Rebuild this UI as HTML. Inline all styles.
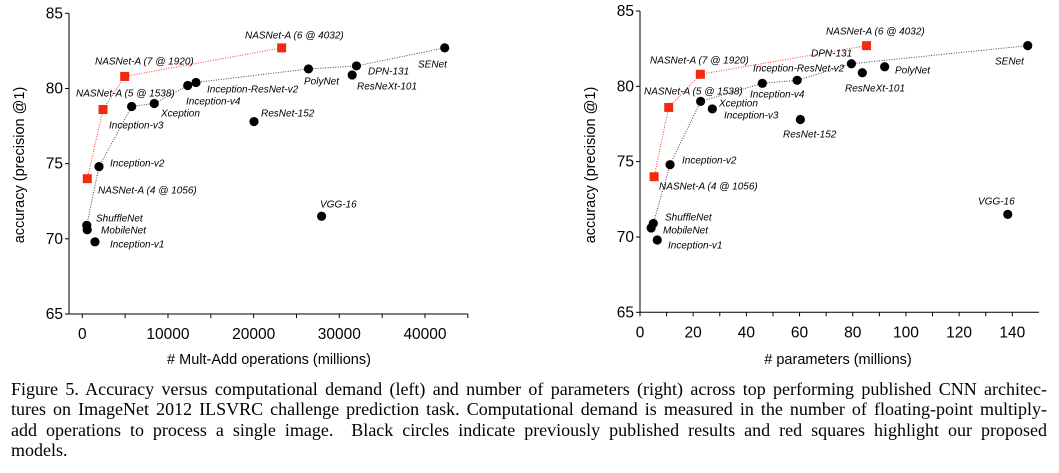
<!DOCTYPE html>
<html><head><meta charset="utf-8"><style>
body{margin:0;background:#fff;width:1059px;height:473px;overflow:hidden;font-family:"Liberation Sans",sans-serif}
#cap{position:absolute;left:11px;top:379px;width:1036px;font-family:"Liberation Serif",serif;font-size:18px;line-height:20.3px;word-spacing:-1.5px;color:#000}
#cap div{white-space:nowrap;text-align:justify;text-align-last:justify}
#cap div.last{text-align-last:left}
</style></head><body>
<svg id="chart" width="1059" height="372" style="position:absolute;left:0;top:0" font-family="Liberation Sans, sans-serif"></svg>
<div id="cap">
<div>Figure 5. Accuracy versus computational demand (left) and number of parameters (right) across top performing published CNN architec-</div>
<div>tures on ImageNet 2012 ILSVRC challenge prediction task. Computational demand is measured in the number of floating-point multiply-</div>
<div>add operations to process a single image. &nbsp;Black circles indicate previously published results and red squares highlight our proposed</div>
<div class="last">models.</div>
</div>
<script>
const names=["ShuffleNet","MobileNet","Inception-v1","Inception-v2","Inception-v3","Xception","Inception-v4","Inception-ResNet-v2","ResNet-152","VGG-16","PolyNet","ResNeXt-101","DPN-131","SENet"];
const accuracy=[70.9,70.6,69.8,74.8,78.8,79.0,80.2,80.4,77.8,71.5,81.3,80.9,81.5,82.7];
const accuracyR=[70.9,70.6,69.8,74.8,78.5,79.0,80.2,80.4,77.8,71.5,81.3,80.9,81.5,82.7];
const multAdds=[524,569,1480,1950,5760,8400,12300,13270,20040,27930,26400,31500,32000,42300];
const params=[5.0,4.2,6.5,11.3,27.2,22.8,46.0,59.1,60.3,138.3,92.0,83.6,79.5,145.8];
const nasNames=["NASNet-A (4 @ 1056)","NASNet-A (5 @ 1538)","NASNet-A (7 @ 1920)","NASNet-A (6 @ 4032)"];
const nasAcc=[74.0,78.6,80.8,82.7];
const nasMultAdds=[580,2420,4950,23270];
const nasParams=[5.3,10.8,22.7,85.2];
const frontierL=[1,0,3,4,5,6,7,10,12,13];
const frontierR=[1,0,3,5,6,7,12,13];
const yTicks=[65,70,75,80,85];
const xTicksL=[0,10000,20000,30000,40000];
const xTicksR=[0,20,40,60,80,100,120,140];
// label positions (px) in page coordinates
const labL={"ShuffleNet":[96,218],"MobileNet":[101,230],"Inception-v1":[110,244],"Inception-v2":[110,163],"Inception-v3":[109,125],"Xception":[161,113],"Inception-v4":[186,101],"Inception-ResNet-v2":[207,89],"ResNet-152":[261,113],"VGG-16":[320,204],"PolyNet":[304,81],"ResNeXt-101":[357,86],"DPN-131":[368,71],"SENet":[418,64]};
const nasLabL=[[98,190],[76,93],[95,61],[245,35]];
const labR={"ShuffleNet":[665,217],"MobileNet":[663,230],"Inception-v1":[668,245],"Inception-v2":[682,160],"Inception-v3":[724,115],"Xception":[719,103],"Inception-v4":[750,94],"Inception-ResNet-v2":[753,68],"ResNet-152":[783,134],"VGG-16":[978,201],"PolyNet":[895,70],"ResNeXt-101":[845,88],"DPN-131":[811,53],"SENet":[995,61]};
const nasLabR=[[659,186],[644,91],[650,60],[826,31]];

const svg=document.getElementById('chart');
const NS="http://www.w3.org/2000/svg";
function el(t,a,p){const e=document.createElementNS(NS,t);for(const k in a)e.setAttribute(k,a[k]);(p||svg).appendChild(e);return e;}
function panel(o){
  const g=el('g',{});
  
  
  const X=v=>o.x0+(v-o.xmin)*(o.x1-o.x0)/(o.xmax-o.xmin);
  const Y=v=>o.y0-(v-65)*(o.y0-o.y1)/20;
  const ax=el('path',{d:`M${o.ax},${o.y1}V${o.y0}H${o.axEnd}`,stroke:'#000','stroke-width':1,fill:'none'},g);
  
  
  yTicks.forEach(v=>{
    el('line',{x1:o.ax-4,x2:o.ax,y1:Y(v),y2:Y(v),stroke:'#000'},g);
    const t=el('text',{x:o.ax-6,y:Y(v)+5,'text-anchor':'end','font-size':15.5},g);t.textContent=v;
    
    
  });
  o.xt.forEach((v,i)=>{
    el('line',{x1:X(v),x2:X(v),y1:o.y0,y2:o.y0+4,stroke:'#000'},g);
    if(i<o.xt.length-1||o.minorEnd){const m=(v+(o.xt[1]-o.xt[0])/2);if(X(m)<o.axEnd)el('line',{x1:X(m),x2:X(m),y1:o.y0,y2:o.y0+4,stroke:'#000'},g);}
    const t=el('text',{x:X(v),y:o.y0+25,'text-anchor':'middle','font-size':15.5},g);t.textContent=v;
    
    
  });
  const xt=el('text',{x:o.xtx,y:364,'text-anchor':'middle','font-size':14.5},g);xt.textContent=o.xtitle;
  
  
  const yt=el('text',{x:0,y:0,'text-anchor':'middle','font-size':14.5,transform:`translate(${o.ytx},165) rotate(-90)`},g);yt.textContent='accuracy (precision @1)';
  
  
  const fl=el('polyline',{points:o.front.map(i=>X(o.xs[i])+','+Y(o.ys[i])).join(' '),fill:'none',stroke:'#444','stroke-width':1,'stroke-dasharray':'1,1.5'},g);
  
  
  const rl=el('polyline',{points:o.nx.map((v,i)=>X(v)+','+Y(nasAcc[i])).join(' '),fill:'none',stroke:'#f33','stroke-width':1,'stroke-dasharray':'1,1.5'},g);
  
  
  o.xs.forEach((v,i)=>{
    const c=el('circle',{cx:X(v),cy:Y(o.ys[i]),r:4.6,fill:'#000'},g);
    
    
    const p=o.lab[names[i]];
    const t=el('text',{x:p[0],y:p[1]+3.5,'font-size':10,'font-style':'italic'},g);t.textContent=names[i];
    
    
  });
  o.nx.forEach((v,i)=>{
    const r=el('rect',{x:X(v)-4.5,y:Y(nasAcc[i])-4.5,width:9,height:9,fill:'#f42a0e'},g);
    
    
    const p=o.nl[i];
    const t=el('text',{x:p[0],y:p[1]+3.5,'font-size':10,'font-style':'italic'},g);t.textContent=nasNames[i];
    
    
  });
}
panel({id:'mult-add-chart',ax:69,axEnd:468,x0:82.3,x1:425,xmin:0,xmax:40000,y0:314,y1:13.3,xt:xTicksL,minorEnd:true,xs:multAdds,ys:accuracy,nx:nasMultAdds,front:frontierL,lab:labL,nl:nasLabL,xtitle:'# Mult-Add operations (millions)',xtx:269,ytx:24});
panel({id:'params-chart',ax:640,axEnd:1039,x0:640,x1:1012.3,xmin:0,xmax:140,y0:312.3,y1:11,xt:xTicksR,minorEnd:false,xs:params,ys:accuracyR,nx:nasParams,front:frontierR,lab:labR,nl:nasLabR,xtitle:'# parameters (millions)',xtx:838,ytx:595});
</script>
</body></html>
